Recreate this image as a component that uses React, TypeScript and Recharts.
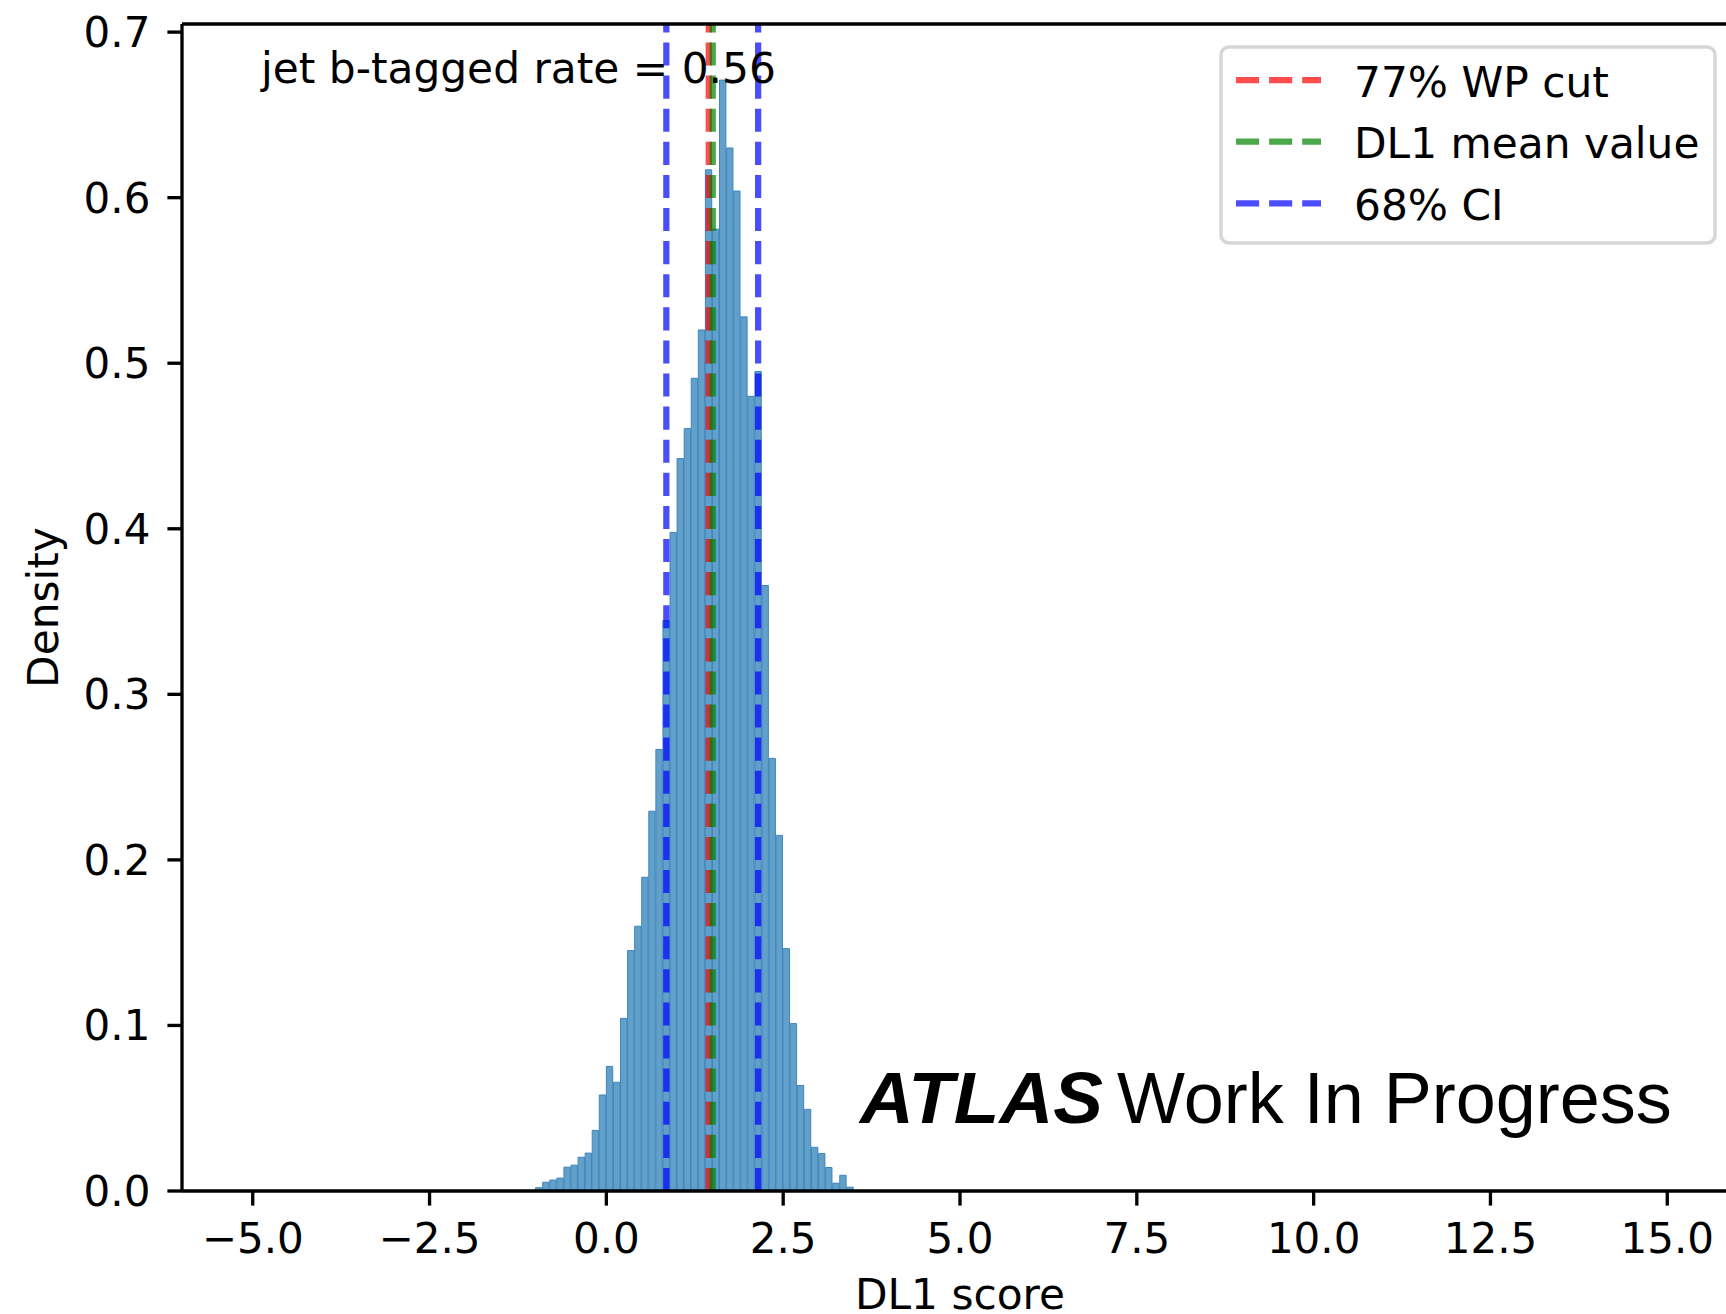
import React from "react";
import { ComposedChart, Bar, XAxis, YAxis, ReferenceLine, Legend } from "recharts";

// DL1 score histogram, bins of width 0.1 (density normalised)
const binCenters = [
  -2.45, -2.25, -1.45, -1.35, -1.15, -1.05,
  -0.95, -0.85, -0.75, -0.65, -0.55, -0.45, -0.35, -0.25, -0.15, -0.05,
  0.05, 0.15, 0.25, 0.35, 0.45, 0.55, 0.65, 0.75, 0.85, 0.95,
  1.05, 1.15, 1.25, 1.35, 1.45, 1.55, 1.65, 1.75, 1.85, 1.95,
  2.05, 2.15, 2.25, 2.35, 2.45, 2.55, 2.65, 2.75, 2.85, 2.95,
  3.05, 3.15, 3.25, 3.35, 3.45, 3.65, 3.75, 4.35,
];
const densities = [
  0.0004, 0.0004, 0.0004, 0.0004, 0.0004, 0.0004,
  0.002, 0.0053, 0.0066, 0.0078, 0.0144, 0.0156, 0.0204, 0.0229, 0.0366, 0.058,
  0.0753, 0.0657, 0.1043, 0.1452, 0.1599, 0.1895, 0.2294, 0.2667, 0.3446, 0.3978,
  0.4424, 0.4605, 0.4909, 0.5201, 0.6168, 0.581, 0.671, 0.63, 0.604, 0.528,
  0.48, 0.495, 0.3657, 0.2613, 0.2148, 0.1464, 0.1011, 0.0637, 0.0493, 0.0264,
  0.0227, 0.0142, 0.0047, 0.0095, 0.0023, 0.0004, 0.0004, 0.0004,
];
const BIN_WIDTH = 0.1;

// vertical markers
const wpCut = 1.448;
const dl1Mean = 1.504;
const ciLow = 0.848;
const ciHigh = 2.146;
const taggedRate = 0.56;

const xTicks = [-5, -2.5, 0, 2.5, 5, 7.5, 10, 12.5, 15];
const yTicks = [0, 0.1, 0.2, 0.3, 0.4, 0.5, 0.6, 0.7];

const legendItems = [
  { label: "77% WP cut", color: "red" },
  { label: "DL1 mean value", color: "green" },
  { label: "68% CI", color: "blue" },
];

const X_MIN = -6;
const X_MAX = 16;
const Y_MAX = 0.7049;

const CHART_W = 1740;
const CHART_H = 1314;
const Y_AXIS_W = 182;
const X_AXIS_H = 123;
const MARGIN = { top: 23, right: 2, bottom: 0, left: 0 };

const FONT = "'DejaVu Sans', sans-serif";
const FS = 42.3;
const TICK_FS = 42;
const LW = 6.25;
const DASH = "23.1 10";

const data = binCenters.map((x, i) => ({ x, density: densities[i] }));

const plotW = CHART_W - Y_AXIS_W - MARGIN.right;
const barPx = (BIN_WIDTH * plotW) / (X_MAX - X_MIN);

const fmtX = (v: number) => (v < 0 ? "\u2212" : "") + Math.abs(v).toFixed(1);
const fmtY = (v: number) => v.toFixed(1);

const tickStyle = { fill: "#000", fontSize: TICK_FS, fontFamily: FONT };
const axisStroke = { stroke: "#000", strokeWidth: 3.33 };

const renderLegend = () => (
  <svg width={498} height={200} style={{ display: "block" }}>
    <rect x={2} y={2} width={494} height={196} rx={8} fill="#fff" fillOpacity={0.8} stroke="#d6d6d6" strokeWidth={3.5} />
    {legendItems.map((it, i) => (
      <g key={it.label}>
        <line
          x1={17}
          x2={102}
          y1={35 + i * 61.7}
          y2={35 + i * 61.7}
          stroke={it.color}
          strokeOpacity={0.7}
          strokeWidth={LW}
          strokeDasharray={DASH}
        />
        <text x={135} y={51.7 + i * 61.7} fontFamily={FONT} fontSize={FS} fill="#000">
          {it.label}
        </text>
      </g>
    ))}
  </svg>
);

const YLabel = (props: any) => {
  const vb = props.viewBox || { y: 24, height: CHART_H - X_AXIS_H - 24 };
  const cy = vb.y + vb.height / 2;
  return (
    <text x={58} y={cy} transform={`rotate(-90, 58, ${cy})`} textAnchor="middle" fontFamily={FONT} fontSize={FS} fill="#000">
      Density
    </text>
  );
};

const XLabel = (props: any) => {
  const vb = props.viewBox || { x: Y_AXIS_W, y: CHART_H - X_AXIS_H, width: plotW };
  return (
    <text x={vb.x + vb.width / 2} y={vb.y + 118} textAnchor="middle" fontFamily={FONT} fontSize={FS} fill="#000">
      DL1 score
    </text>
  );
};

export default function App() {
  return (
    <div
      style={{
        position: "absolute",
        left: 0,
        top: 0,
        width: 1726,
        height: 1314,
        overflow: "hidden",
        background: "#fff",
      }}
    >
      <ComposedChart width={CHART_W} height={CHART_H} data={data} margin={MARGIN}>
        <XAxis
          type="number"
          dataKey="x"
          domain={[X_MIN, X_MAX]}
          ticks={xTicks}
          interval={0}
          tickFormatter={fmtX}
          allowDataOverflow
          height={X_AXIS_H}
          tickSize={14.6}
          tickMargin={18}
          tick={tickStyle}
          tickLine={axisStroke}
          axisLine={axisStroke}
          label={XLabel}
        />
        {/* top spine */}
        <XAxis
          xAxisId="top"
          orientation="top"
          type="number"
          domain={[X_MIN, X_MAX]}
          height={1}
          tick={false}
          tickLine={false}
          axisLine={axisStroke}
        />
        <YAxis
          type="number"
          domain={[0, Y_MAX]}
          ticks={yTicks}
          interval={0}
          tickFormatter={fmtY}
          allowDataOverflow
          width={Y_AXIS_W}
          tickSize={14.6}
          tickMargin={17}
          tick={tickStyle}
          tickLine={axisStroke}
          axisLine={axisStroke}
          label={YLabel}
        />
        <Bar
          dataKey="density"
          barSize={barPx}
          fill="#62a0ca"
          stroke="#3d85bd"
          strokeWidth={1}
          isAnimationActive={false}
        />
        <ReferenceLine x={wpCut} stroke="red" strokeOpacity={0.7} strokeWidth={LW} strokeDasharray={DASH} />
        <ReferenceLine x={dl1Mean} stroke="green" strokeOpacity={0.7} strokeWidth={LW} strokeDasharray={DASH} />
        <ReferenceLine x={ciLow} stroke="blue" strokeOpacity={0.7} strokeWidth={LW} strokeDasharray={DASH} />
        <ReferenceLine x={ciHigh} stroke="blue" strokeOpacity={0.7} strokeWidth={LW} strokeDasharray={DASH} />
        <Legend
          content={renderLegend}
          layout="vertical"
          align="center"
          verticalAlign="middle"
          wrapperStyle={{ top: 45, left: 1219, width: 498, height: 200 }}
        />
      </ComposedChart>
      <svg
        width={1726}
        height={1314}
        style={{ position: "absolute", left: 0, top: 0, pointerEvents: "none" }}
      >
        <text x={261} y={83} fontFamily={FONT} fontSize={FS} fill="#000">
          {`jet b-tagged rate = ${taggedRate.toFixed(2)}`}
        </text>
        <text
          x={860}
          y={1123}
          fontFamily="'Liberation Sans', Arial, sans-serif"
          fontSize={72}
          fontWeight="bold"
          fontStyle="italic"
          textLength={243}
          lengthAdjust="spacingAndGlyphs"
          fill="#000"
        >
          ATLAS
        </text>
        <text x={1117} y={1123} fontFamily="'Liberation Sans', Arial, sans-serif" fontSize={72} fill="#000">
          Work In Progress
        </text>
      </svg>
    </div>
  );
}
